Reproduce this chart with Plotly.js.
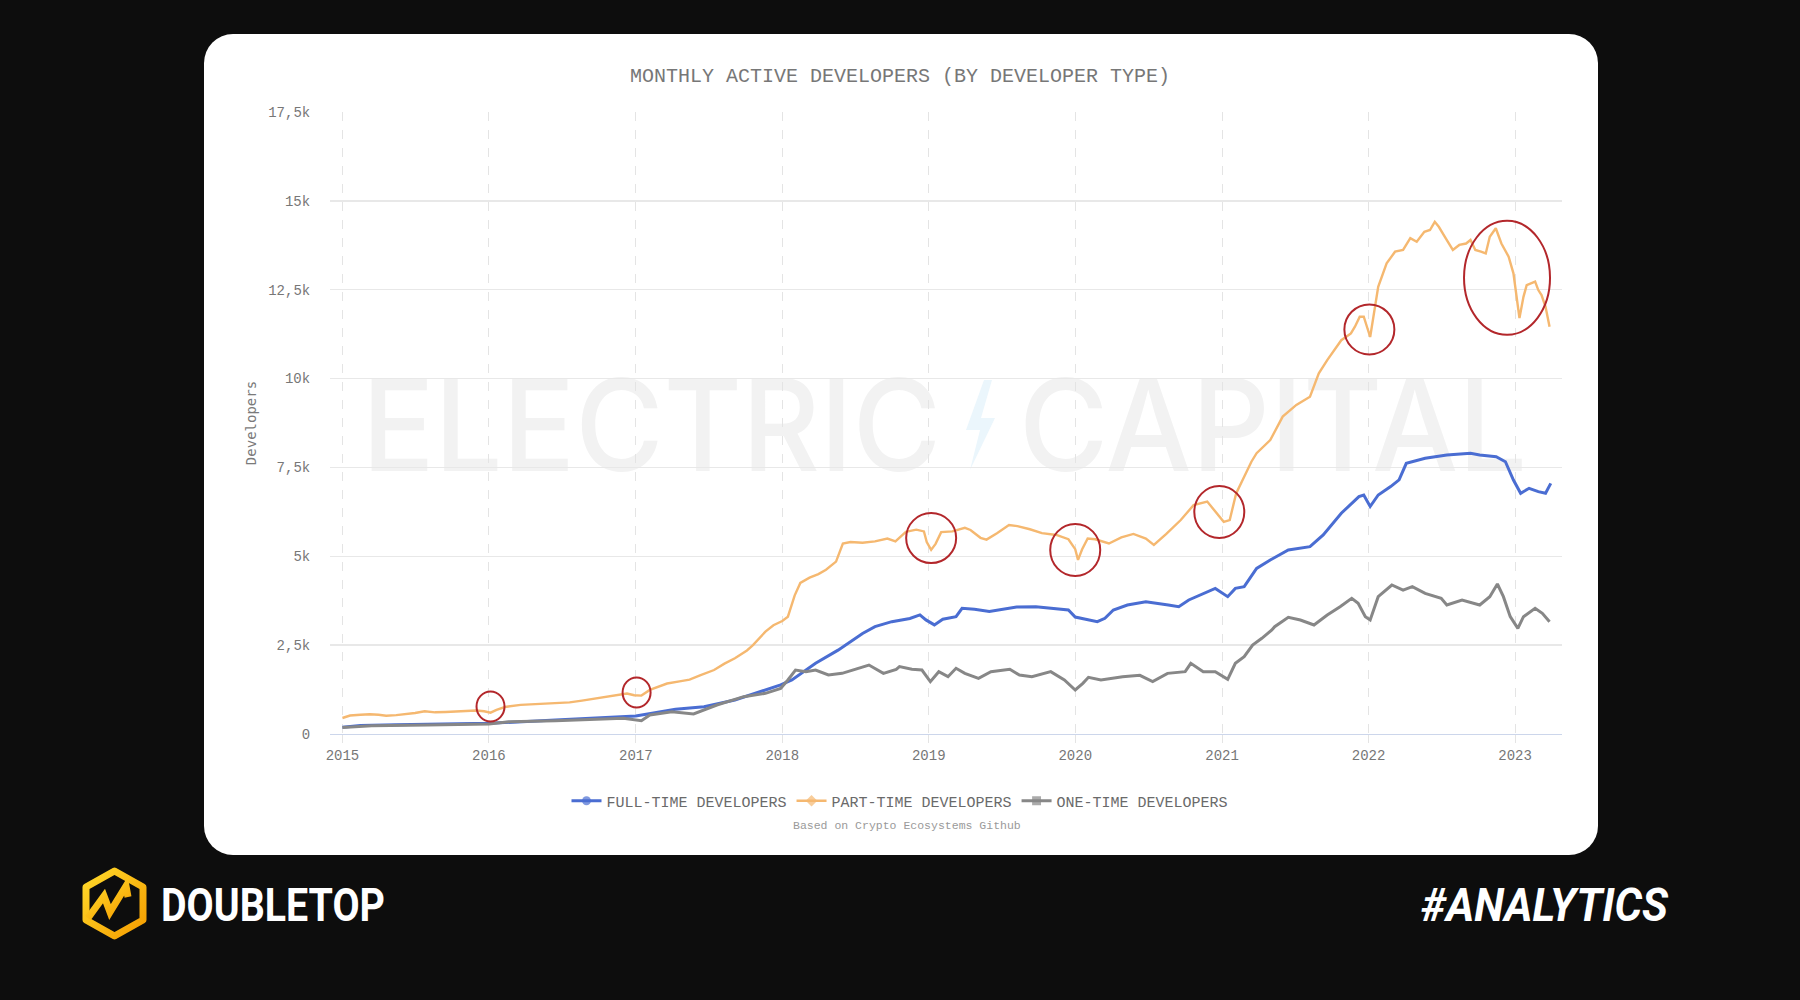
<!DOCTYPE html>
<html>
<head>
<meta charset="utf-8">
<script src="https://cdn.plot.ly/plotly-3.0.1.min.js"></script>
<style>
  html, body { margin:0; padding:0; background:#0d0d0d; width:1800px; height:1000px; overflow:hidden; }
  #card { position:absolute; left:204px; top:34px; width:1394px; height:821px; background:#ffffff; border-radius:29px; }
  #wm { position:absolute; left:0; top:0; }
  #chart { position:absolute; left:0; top:0; width:1800px; height:1000px; }
  #brand { position:absolute; left:0; top:0; }
</style>
</head>
<body>
<div id="card"></div>
<svg id="wm" width="1800" height="1000">
  <text x="362" y="471" textLength="579" lengthAdjust="spacingAndGlyphs" font-family="Inter, Lato, sans-serif" font-weight="500" font-size="128" fill="#f2f2f2">ELECTRIC</text>
  <polygon points="984,380 966,430 980,430 970,470 995,418 981,418 992,380" fill="#ebf6fc"/>
  <text x="1019" y="471" textLength="508" lengthAdjust="spacingAndGlyphs" font-family="Inter, Lato, sans-serif" font-weight="500" font-size="128" fill="#f2f2f2">CAPITAL</text>
</svg>
<div id="chart"></div>
<svg id="brand" width="1800" height="1000">
  <defs>
    <linearGradient id="lg" x1="0" y1="0" x2="1" y2="1">
      <stop offset="0" stop-color="#ffd92a"/>
      <stop offset="1" stop-color="#f59d00"/>
    </linearGradient>
  </defs>
  <polygon points="114.5,871 143,887 143,920 114.5,936 86,920 86,887" fill="none" stroke="url(#lg)" stroke-width="7" stroke-linejoin="round"/>
  <polyline points="88,918 104,896 110,912 126,886 128,897" fill="none" stroke="url(#lg)" stroke-width="7" stroke-linejoin="miter"/>
  <text x="161" y="921" textLength="224" lengthAdjust="spacingAndGlyphs" font-family="Roboto, 'Liberation Sans', sans-serif" font-weight="700" font-size="46" fill="#ffffff">DOUBLETOP</text>
  <text x="1421" y="921" textLength="247" lengthAdjust="spacingAndGlyphs" font-family="Roboto, 'Liberation Sans', sans-serif" font-weight="700" font-style="italic" font-size="46" fill="#ffffff">#ANALYTICS</text>
</svg>
<script>
// ---------------- DATA ----------------
const fullDates = ['2015-01-01','2015-02-15','2015-05-15','2015-09-01','2016-01-01','2016-06-15','2017-01-01','2017-04-10','2017-06-20','2017-09-05','2017-11-10','2017-12-28','2018-01-25','2018-03-25','2018-05-20','2018-06-15','2018-07-20','2018-08-20','2018-10-01','2018-11-15','2018-12-10','2018-12-25','2019-01-15','2019-02-05','2019-03-10','2019-03-25','2019-04-25','2019-06-01','2019-07-01','2019-08-08','2019-09-25','2019-11-15','2019-12-15','2020-01-01','2020-02-01','2020-02-25','2020-03-15','2020-04-05','2020-05-10','2020-06-25','2020-08-20','2020-09-15','2020-10-10','2020-11-25','2020-12-15','2021-01-15','2021-02-03','2021-02-25','2021-03-28','2021-05-01','2021-06-15','2021-08-08','2021-09-10','2021-10-25','2021-12-08','2021-12-20','2022-01-05','2022-01-25','2022-02-25','2022-03-18','2022-04-05','2022-05-22','2022-07-15','2022-09-12','2022-10-05','2022-11-15','2022-12-08','2022-12-28','2023-01-15','2023-02-05','2023-02-28','2023-03-18','2023-03-31'];
const fullVals = [190,240,262,280,300,394,506,694,769,957,1190,1380,1520,1990,2360,2550,2830,3020,3160,3250,3350,3210,3070,3230,3300,3536,3507,3450,3507,3570,3583,3536,3490,3290,3207,3160,3254,3489,3630,3720,3630,3580,3770,4004,4097,3864,4097,4145,4660,4895,5177,5270,5600,6210,6680,6725,6400,6725,6960,7150,7615,7756,7850,7897,7850,7800,7660,7146,6772,6913,6820,6772,7053];

const partDates = ['2015-01-01','2015-01-20','2015-02-15','2015-03-10','2015-04-01','2015-04-20','2015-05-15','2015-06-10','2015-07-01','2015-07-25','2015-08-20','2015-09-15','2015-10-10','2015-11-05','2015-11-30','2015-12-20','2016-01-05','2016-01-20','2016-02-10','2016-03-20','2016-04-20','2016-05-20','2016-06-20','2016-07-20','2016-08-20','2016-09-20','2016-10-20','2016-11-20','2016-12-10','2016-12-28','2017-01-15','2017-02-05','2017-03-20','2017-04-20','2017-05-15','2017-06-10','2017-07-15','2017-08-10','2017-09-05','2017-10-05','2017-10-20','2017-11-20','2017-12-10','2018-01-01','2018-01-15','2018-02-01','2018-02-15','2018-03-10','2018-04-01','2018-04-20','2018-05-15','2018-06-01','2018-06-20','2018-07-20','2018-08-20','2018-09-20','2018-10-10','2018-11-05','2018-12-01','2018-12-20','2018-12-27','2019-01-07','2019-01-18','2019-02-01','2019-03-01','2019-04-01','2019-04-15','2019-05-10','2019-05-25','2019-06-20','2019-07-20','2019-08-10','2019-09-10','2019-10-10','2019-11-15','2019-12-15','2020-01-01','2020-01-08','2020-01-18','2020-02-01','2020-02-20','2020-03-25','2020-04-25','2020-05-25','2020-06-25','2020-07-15','2020-08-15','2020-09-20','2020-10-22','2020-11-25','2020-12-15','2021-01-05','2021-01-20','2021-02-05','2021-03-15','2021-03-28','2021-05-01','2021-06-01','2021-07-05','2021-08-08','2021-08-30','2021-09-20','2021-10-25','2021-11-18','2021-11-28','2021-12-10','2021-12-20','2022-01-05','2022-01-25','2022-02-15','2022-03-08','2022-03-28','2022-04-15','2022-05-01','2022-05-20','2022-06-03','2022-06-15','2022-06-25','2022-07-12','2022-07-30','2022-08-15','2022-09-01','2022-09-12','2022-09-24','2022-10-08','2022-10-20','2022-10-30','2022-11-14','2022-11-28','2022-12-16','2022-12-28','2023-01-04','2023-01-12','2023-01-22','2023-01-30','2023-02-20','2023-02-28','2023-03-08','2023-03-18','2023-03-28'];
const partVals = [450,520,540,555,540,515,530,560,590,640,610,620,635,640,660,640,600,680,760,820,840,860,875,890,940,1000,1040,1100,1140,1090,1080,1240,1420,1480,1530,1650,1800,1980,2130,2350,2500,2880,3060,3180,3300,3900,4250,4400,4500,4620,4850,5360,5400,5380,5420,5500,5420,5690,5750,5700,5400,5180,5350,5680,5700,5800,5740,5520,5470,5650,5880,5850,5760,5650,5600,5480,5200,4900,5190,5500,5480,5360,5530,5630,5500,5320,5630,6020,6440,6540,6250,5970,6020,6770,7660,7900,8270,8930,9260,9490,10150,10520,11080,11270,11460,11740,11740,11170,12580,13240,13570,13620,13950,13850,14130,14180,14410,14270,13950,13620,13760,13800,13900,13620,13570,13520,13990,14230,13800,13430,12960,12300,11700,12300,12630,12730,12490,12350,12020,11460];

const oneDates = ['2015-01-01','2015-03-15','2015-08-01','2016-01-01','2016-02-20','2016-06-15','2016-12-01','2017-01-15','2017-02-05','2017-04-01','2017-05-25','2017-07-22','2017-09-27','2017-11-20','2017-12-28','2018-01-15','2018-02-03','2018-03-01','2018-03-25','2018-04-26','2018-05-30','2018-07-01','2018-08-05','2018-09-10','2018-10-12','2018-10-20','2018-11-20','2018-12-15','2019-01-05','2019-01-26','2019-02-18','2019-03-10','2019-04-01','2019-05-05','2019-06-05','2019-07-22','2019-08-15','2019-09-15','2019-11-01','2019-12-05','2020-01-01','2020-01-20','2020-02-03','2020-03-05','2020-04-28','2020-06-10','2020-07-12','2020-08-18','2020-10-01','2020-10-15','2020-11-15','2020-12-15','2021-01-15','2021-02-03','2021-02-25','2021-03-18','2021-04-10','2021-05-05','2021-05-12','2021-06-15','2021-07-15','2021-08-18','2021-09-20','2021-10-22','2021-11-20','2021-12-06','2021-12-24','2022-01-05','2022-01-25','2022-02-28','2022-03-28','2022-04-20','2022-05-22','2022-07-01','2022-07-15','2022-08-22','2022-10-05','2022-10-30','2022-11-18','2022-12-03','2022-12-20','2023-01-08','2023-01-22','2023-02-20','2023-03-10','2023-03-28'];
const oneVals = [180,230,250,281,347,375,440,375,535,628,563,816,1050,1144,1285,1519,1800,1754,1800,1660,1706,1820,1941,1706,1820,1895,1820,1800,1473,1754,1613,1848,1706,1566,1754,1820,1660,1613,1754,1519,1238,1425,1594,1519,1613,1650,1473,1706,1754,1988,1754,1754,1538,1988,2176,2504,2692,2926,3020,3282,3207,3067,3348,3583,3817,3677,3301,3207,3864,4192,4050,4145,3957,3817,3630,3770,3630,3864,4220,3864,3301,2973,3301,3536,3395,3160];

const seriesNames = ['FULL-TIME DEVELOPERS','PART-TIME DEVELOPERS','ONE-TIME DEVELOPERS'];
const yTickVals = [0,2500,5000,7500,10000,12500,15000,17500];
const yTickText = ['0','2,5k','5k','7,5k','10k','12,5k','15k','17,5k'];
const xTickVals = ['2015-01-01','2016-01-01','2017-01-01','2018-01-01','2019-01-01','2020-01-01','2021-01-01','2022-01-01','2023-01-01'];
const xTickText = ['2015','2016','2017','2018','2019','2020','2021','2022','2023'];

// highlighted dips (red circles)
const circleDates = ['2016-01-05','2017-01-03','2019-01-07','2020-01-01','2020-12-25','2022-01-03','2022-12-12'];
const circleVals = [774,1168,5514,5177,6246,11381,12835];

// ---------------- STYLE / LAYOUT ----------------
const W = 1800, H = 1000, L = 330, R = 238, T = 112, B = 266;
const PW = W - L - R, PH = H - T - B;
const px = x => (x - L) / PW;
const py = y => (H - B - y) / PH;
const circleRx = [14,14,25,25,25,25,43];
const circleRy = [15,15,25,26,26,25,57];
const MONO = '"Liberation Mono", "DejaVu Sans Mono", monospace';

function mk(name, xs, ys, color, width, symbol) {
  return {
    type: 'scatter', mode: 'lines+markers', name: name, x: xs, y: ys,
    line: { color: color, width: width },
    marker: {
      symbol: symbol,
      color: ys.map((v, i) => i === 0 ? color : 'rgba(0,0,0,0)'),
      size: ys.map((v, i) => i === 0 ? 0 : 9),
      line: { width: 0 }
    },
    hoverinfo: 'x+y'
  };
}

const traces = [
  mk(seriesNames[0], fullDates, fullVals, '#4a6dd2', 3, 'circle'),
  mk(seriesNames[1], partDates, partVals, '#f5b870', 2.4, 'diamond'),
  mk(seriesNames[2], oneDates, oneVals, '#878787', 3, 'square')
];

const shapes = circleDates.map((d, i) => ({
  type: 'circle', xref: 'x', yref: 'y', xsizemode: 'pixel', ysizemode: 'pixel',
  xanchor: d, yanchor: circleVals[i],
  x0: -circleRx[i], x1: circleRx[i], y0: -circleRy[i], y1: circleRy[i],
  line: { color: '#b3272b', width: 2 }, layer: 'above'
}));

const layout = {
  width: W, height: H,
  margin: { l: L, r: R, t: T, b: B, pad: 0 },
  paper_bgcolor: 'rgba(0,0,0,0)', plot_bgcolor: 'rgba(0,0,0,0)',
  font: { family: MONO, color: '#7a7a7a' },
  title: {
    text: 'MONTHLY ACTIVE DEVELOPERS (BY DEVELOPER TYPE)',
    x: 0.5, xref: 'container', xanchor: 'center',
    y: 1 - 75 / H, yref: 'container', yanchor: 'middle',
    font: { family: MONO, size: 20, color: '#777777' }
  },
  xaxis: {
    type: 'date', range: ['2014-12-01', '2023-04-28'],
    tickvals: xTickVals, ticktext: xTickText,
    showgrid: true, gridcolor: '#e4e4e4', griddash: 'dash', gridwidth: 1,
    showline: true, linecolor: '#ccd6eb', linewidth: 1.2,
    ticks: 'outside', ticklen: 8, tickcolor: '#e4e4e4',
    tickfont: { family: MONO, size: 14, color: '#777777' },
    zeroline: false, fixedrange: true
  },
  yaxis: {
    range: [0, 17500], tickvals: yTickVals, ticktext: yTickText,
    showgrid: true, gridcolor: '#e8e8e8', gridwidth: 1.3,
    zeroline: false, showline: false,
    ticks: 'outside', ticklen: 16, tickcolor: 'rgba(0,0,0,0)',
    tickfont: { family: MONO, size: 14, color: '#777777' },
    title: { text: 'Developers', standoff: 8, font: { family: '"DejaVu Sans Mono", monospace', size: 14, color: '#7a7a7a' } },
    fixedrange: true
  },
  showlegend: true,
  legend: {
    orientation: 'h', x: px(900), xanchor: 'center', y: py(801), yanchor: 'middle',
    font: { family: MONO, size: 15, color: '#6a6a6a' },
    itemwidth: 30, bgcolor: 'rgba(0,0,0,0)', traceorder: 'normal'
  },
  annotations: [{
    text: 'Based on Crypto Ecosystems Github', xref: 'paper', yref: 'paper',
    x: px(907), y: py(825), xanchor: 'center', yanchor: 'middle', showarrow: false,
    font: { family: MONO, size: 11.5, color: '#9a9a9a' }
  }],
  shapes: shapes,
  hovermode: false
};

Plotly.newPlot('chart', traces, layout, { displayModeBar: false, staticPlot: true });
</script>
</body>
</html>
